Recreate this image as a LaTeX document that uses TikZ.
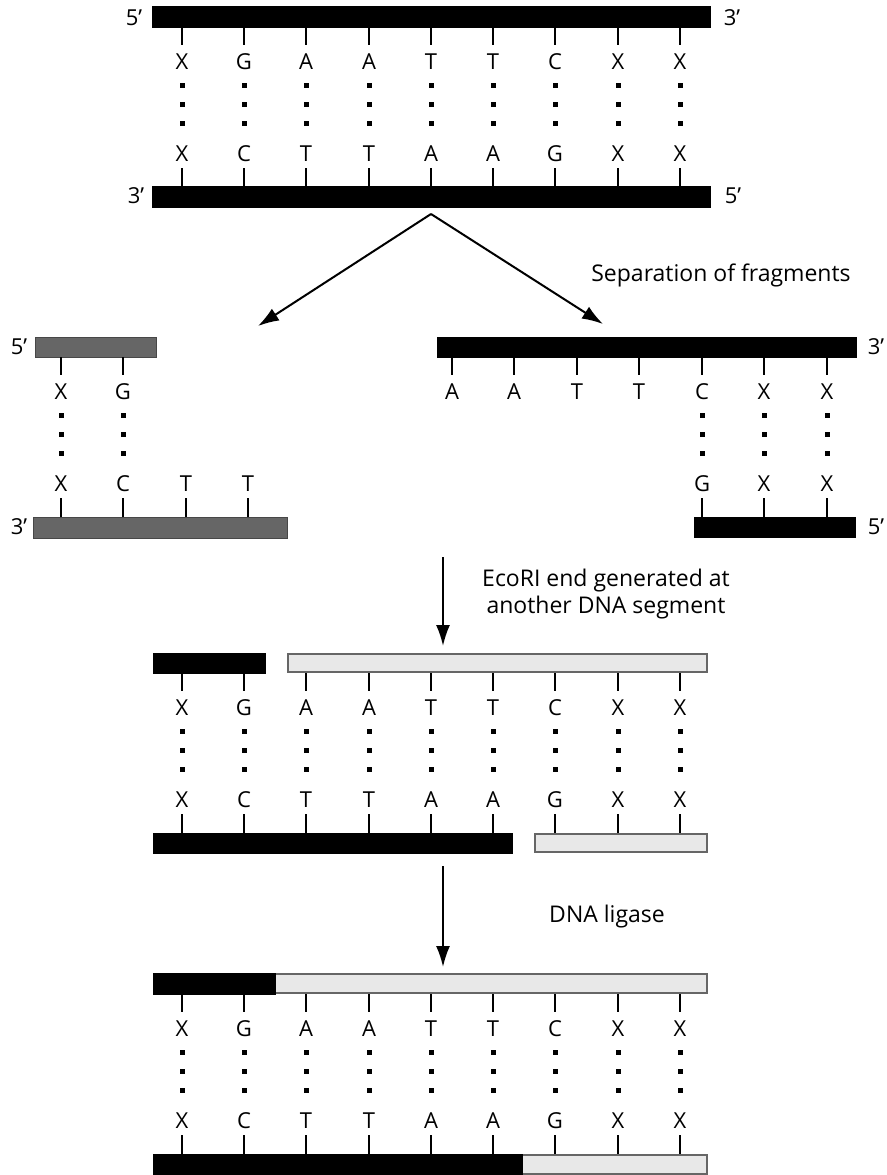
\documentclass[tikz,border=0pt]{standalone}
\usepackage{fontspec}
\setmainfont{Open Sans}
\usetikzlibrary{arrows.meta}
\tikzset{
  base/.style={inner sep=0pt, font=\fontsize{22}{22}\selectfont},
  endlbl/.style={inner sep=0pt, font=\fontsize{22}{22}\selectfont},
  caption/.style={inner sep=0pt, align=center, font=\fontsize{23}{27}\selectfont},
  blackbar/.style={fill=black, draw=black, line width=0.8pt},
  graybar/.style={fill=black!60, draw=black!72, line width=1pt},
  lightbar/.style={fill=black!9, draw=black!60, line width=1.6pt},
  tick/.style={line width=1.4pt},
  flow/.style={line width=2pt, -{Latex[length=21pt,width=14pt]}},
}
\newcommand{\pr}{\char"0027\relax}
\newcommand{\bpfull}[5]{%
  \node[base] (#5t) at (#1,#2+35) {#3};
  \node[base] (#5b) at (#1,#2+127) {#4};
  \draw[tick] (#1,#2) -- (#1,#2+18);
  \draw[tick] (#1,#2+141) -- (#1,#2+160);
  \foreach \dy in {58,77,96} {\fill (#1-2.5,#2+\dy-2.5) rectangle (#1+2.5,#2+\dy+2.5);}
}
\newcommand{\bptop}[4]{%
  \node[base] (#4t) at (#1,#2+35) {#3};
  \draw[tick] (#1,#2) -- (#1,#2+18);
}
\newcommand{\bpbot}[4]{%
  \node[base] (#4b) at (#1,#2+127) {#3};
  \draw[tick] (#1,#2+141) -- (#1,#2+160);
}
\begin{document}
\begin{tikzpicture}[x=1pt,y=-1pt]
\useasboundingbox (0,0) rectangle (886,1175);

% ---------- Section 1 : intact duplex ----------
\path[blackbar] (152,6) rectangle (710,27);
\path[blackbar] (152,186) rectangle (710,207);
\node[endlbl] (s1a) at (134,18) {5\pr};
\node[endlbl] (s1b) at (732,18) {3\pr};
\node[endlbl] (s1c) at (136,196) {3\pr};
\node[endlbl] (s1d) at (733,196) {5\pr};
\bpfull{182}{27}{X}{X}{a1}
\bpfull{244}{27}{G}{C}{a2}
\bpfull{306}{27}{A}{T}{a3}
\bpfull{369}{27}{A}{T}{a4}
\bpfull{431}{27}{T}{A}{a5}
\bpfull{493}{27}{T}{A}{a6}
\bpfull{555}{27}{C}{G}{a7}
\bpfull{618}{27}{X}{X}{a8}
\bpfull{680}{27}{X}{X}{a9}

% ---------- separation arrows ----------
\coordinate (apex) at (431,214);
\coordinate (leftend) at (258,326);
\coordinate (rightend) at (603,324);
\draw[flow] (apex) -- (leftend);
\draw[flow] (apex) -- (rightend);
\node[caption] (sep) at (721,275) {Separation of fragments};

% ---------- Section 2 : left fragment ----------
\path[graybar] (35,337) rectangle (156,357);
\path[graybar] (33,517) rectangle (287,538);
\node[endlbl] (s2a) at (19,347) {5\pr};
\node[endlbl] (s2b) at (19,527) {3\pr};
\bpfull{61}{357}{X}{X}{b1}
\bpfull{123}{357}{G}{C}{b2}
\bpbot{186}{357}{T}{b3}
\bpbot{248}{357}{T}{b4}

% ---------- Section 2 : right fragment ----------
\path[blackbar] (437,337) rectangle (856,357);
\path[blackbar] (694,517) rectangle (855,537);
\node[endlbl] (s2c) at (876,347) {3\pr};
\node[endlbl] (s2d) at (876,527) {5\pr};
\bptop{452}{357}{A}{c1}
\bptop{514}{357}{A}{c2}
\bptop{577}{357}{T}{c3}
\bptop{639}{357}{T}{c4}
\bpfull{702}{357}{C}{G}{c5}
\bpfull{764}{357}{X}{X}{c6}
\bpfull{827}{357}{X}{X}{c7}

% ---------- arrow 2 ----------
\coordinate (ar2s) at (443,557);
\coordinate (ar2e) at (443,646);
\draw[flow] (ar2s) -- (ar2e);
\node[caption] (eco) at (606,594) {EcoRI end generated at\\another DNA segment};

% ---------- Section 3 : annealed ----------
\path[blackbar] (153,653) rectangle (265,673);
\path[lightbar] (288,653.8) rectangle (707,672.2);
\path[blackbar] (153,833) rectangle (512,853);
\path[lightbar] (535,833.8) rectangle (707,852.2);
\bpfull{182}{673}{X}{X}{d1}
\bpfull{244}{673}{G}{C}{d2}
\bpfull{306}{673}{A}{T}{d3}
\bpfull{369}{673}{A}{T}{d4}
\bpfull{431}{673}{T}{A}{d5}
\bpfull{493}{673}{T}{A}{d6}
\bpfull{555}{673}{C}{G}{d7}
\bpfull{618}{673}{X}{X}{d8}
\bpfull{680}{673}{X}{X}{d9}

% ---------- arrow 3 ----------
\coordinate (ar3s) at (443,866);
\coordinate (ar3e) at (443,967);
\draw[flow] (ar3s) -- (ar3e);
\node[caption] (lig) at (607,917) {DNA ligase};

% ---------- Section 4 : ligated ----------
\path[lightbar] (275,973.8) rectangle (707,993.2);
\path[blackbar] (153,973) rectangle (275,994);
\path[lightbar] (522,1154.8) rectangle (707,1174.2);
\path[blackbar] (153,1154) rectangle (522,1175);
\bpfull{182}{994}{X}{X}{e1}
\bpfull{244}{994}{G}{C}{e2}
\bpfull{306}{994}{A}{T}{e3}
\bpfull{369}{994}{A}{T}{e4}
\bpfull{431}{994}{T}{A}{e5}
\bpfull{493}{994}{T}{A}{e6}
\bpfull{555}{994}{C}{G}{e7}
\bpfull{618}{994}{X}{X}{e8}
\bpfull{680}{994}{X}{X}{e9}
\end{tikzpicture}
\end{document}
